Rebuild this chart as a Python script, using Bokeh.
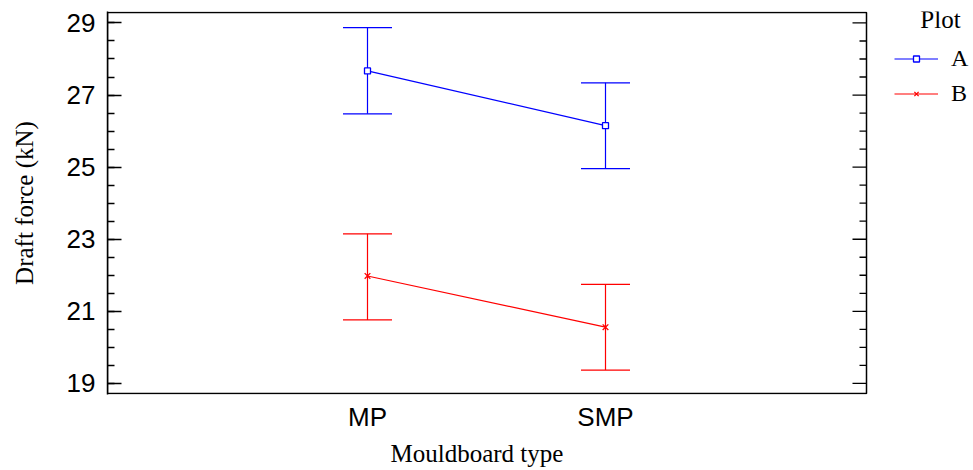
from bokeh.plotting import figure
from bokeh.models import (Range1d, FixedTicker, Legend, LegendItem, Label, Title,
                          ColumnDataSource)
from bokeh.embed import file_html
from bokeh.resources import INLINE

# ---- data ----
categories = ["MP", "SMP"]
series_names = ["A", "B"]
a_mean = [27.67, 26.15]
a_lower = [26.48, 24.96]
a_upper = [28.87, 27.34]
b_mean = [21.98, 20.56]
b_lower = [20.76, 19.37]
b_upper = [23.15, 21.75]
y_ticks = [19, 21, 23, 25, 27, 29]
y_minor = [18.5 + 0.5 * i for i in range(23)]
legend_title = "Plot"
x_title = "Mouldboard type"
y_title = "Draft force (kN)"

x_pos = list(range(len(categories)))

# ---- geometry (pixels) ----
W, H = 973, 470
LEFT, TOP, BOTTOM = 107, 11, 76          # borders around the drawing frame
BOX_RIGHT_PX = 866                        # right edge of the plot box
PX_PER_X = 238.0                          # pixels per category step
Y_LO, Y_HI = 18.72, 29.29                 # value extent of the plot box
frame_w = W - LEFT
frame_h = H - TOP - BOTTOM
px_per_y = (frame_h - 2) / (Y_HI - Y_LO)
pad_y = 1 / px_per_y
X0 = -(367 - 107) / PX_PER_X
X1 = X0 + frame_w / PX_PER_X
BOX_R = X0 + (BOX_RIGHT_PX - LEFT) / PX_PER_X
CAP = 24.5 / PX_PER_X
MAJ = 14 / PX_PER_X
MIN = 7 / PX_PER_X

BLUE = "#0000FF"
RED = "#FF0000"
SANS = "Liberation Sans"
SERIF = "Liberation Serif"

p = figure(width=W, height=H, output_backend="svg", toolbar_location=None,
           x_range=Range1d(X0, X1), y_range=Range1d(Y_LO - pad_y, Y_HI + pad_y),
           min_border_left=LEFT, min_border_top=TOP, min_border_bottom=BOTTOM,
           min_border_right=0)
p.background_fill_color = "white"
p.border_fill_color = "white"
p.xgrid.visible = False
p.ygrid.visible = False
p.outline_line_color = None

# plot box
p.quad(left=[X0], right=[BOX_R], bottom=[Y_LO], top=[Y_HI], fill_color=None,
       line_color="black", line_width=1.5)
# right-hand ticks (pointing inwards)
p.segment(x0=[BOX_R - MAJ] * len(y_ticks), y0=y_ticks, x1=[BOX_R] * len(y_ticks),
          y1=y_ticks, line_color="black", line_width=1.3)
minor_in = [m for m in y_minor if Y_LO <= m <= Y_HI and m not in y_ticks]
p.segment(x0=[BOX_R - MIN] * len(minor_in), y0=minor_in, x1=[BOX_R] * len(minor_in),
          y1=minor_in, line_color="black", line_width=1.3)

# y axis (left)
ya = p.yaxis[0]
ya.ticker = FixedTicker(ticks=y_ticks, minor_ticks=y_minor)
ya.major_tick_in = 14
ya.major_tick_out = 0
ya.minor_tick_in = 7
ya.minor_tick_out = 0
ya.axis_line_width = 1.5
ya.major_tick_line_width = 1.3
ya.minor_tick_line_width = 1.3
ya.major_label_text_font = SANS
ya.major_label_text_font_size = "26px"
ya.major_label_text_color = "black"
ya.major_label_standoff = 12
ya.axis_label = y_title
ya.axis_label_text_font = SERIF
ya.axis_label_text_font_size = "25px"
ya.axis_label_text_font_style = "normal"
ya.axis_label_text_color = "black"
ya.axis_label_standoff = 26

# x axis (labels only; box edge drawn above)
xa = p.xaxis[0]
xa.ticker = FixedTicker(ticks=x_pos, minor_ticks=[])
xa.major_label_overrides = {i: c for i, c in zip(x_pos, categories)}
xa.major_tick_in = 0
xa.major_tick_out = 0
xa.minor_tick_in = 0
xa.minor_tick_out = 0
xa.axis_line_color = None
xa.major_label_text_font = SANS
xa.major_label_text_font_size = "26px"
xa.major_label_text_color = "black"
xa.major_label_standoff = 7

p.add_layout(Title(text=x_title, align="left", offset=390 - LEFT, standoff=6,
                   text_font=SERIF, text_font_size="25px", text_font_style="normal",
                   text_color="black"), "below")

items = []
for name, mean, lower, upper, color, marker, msize in [
        (series_names[0], a_mean, a_lower, a_upper, BLUE, "square", 6),
        (series_names[1], b_mean, b_lower, b_upper, RED, "x", 8)]:
    src = ColumnDataSource(dict(
        x=x_pos, mean=mean, lower=lower, upper=upper,
        xl=[x - CAP for x in x_pos], xr=[x + CAP for x in x_pos]))
    p.segment("x", "lower", "x", "upper", source=src, line_color=color, line_width=1.2)
    p.segment("xl", "upper", "xr", "upper", source=src, line_color=color, line_width=1.2)
    p.segment("xl", "lower", "xr", "lower", source=src, line_color=color, line_width=1.2)
    ln = p.line("x", "mean", source=src, line_color=color, line_width=1.2)
    sc = p.scatter("x", "mean", source=src, marker=marker, size=msize,
                   line_color=color, fill_color="white", line_width=1.3)
    items.append(LegendItem(label=name, renderers=[ln, sc]))

frame_bottom_px = TOP + frame_h
legend = Legend(items=items, location=(894 - LEFT, frame_bottom_px - 107),
                glyph_width=44, glyph_height=15, label_height=15, spacing=8,
                padding=0, margin=0, label_standoff=13,
                border_line_color=None, background_fill_alpha=0,
                label_text_font=SERIF, label_text_font_size="24px",
                label_text_color="black")
p.add_layout(legend)

p.add_layout(Label(x=BOX_R + (940 - BOX_RIGHT_PX) / PX_PER_X,
                   y=Y_HI - (19.3 - 12.3) / px_per_y,
                   text=legend_title, text_align="center", text_baseline="alphabetic",
                   text_font=SERIF, text_font_size="25px", text_color="black"))

open("out.html", "w").write(file_html(p, INLINE))
